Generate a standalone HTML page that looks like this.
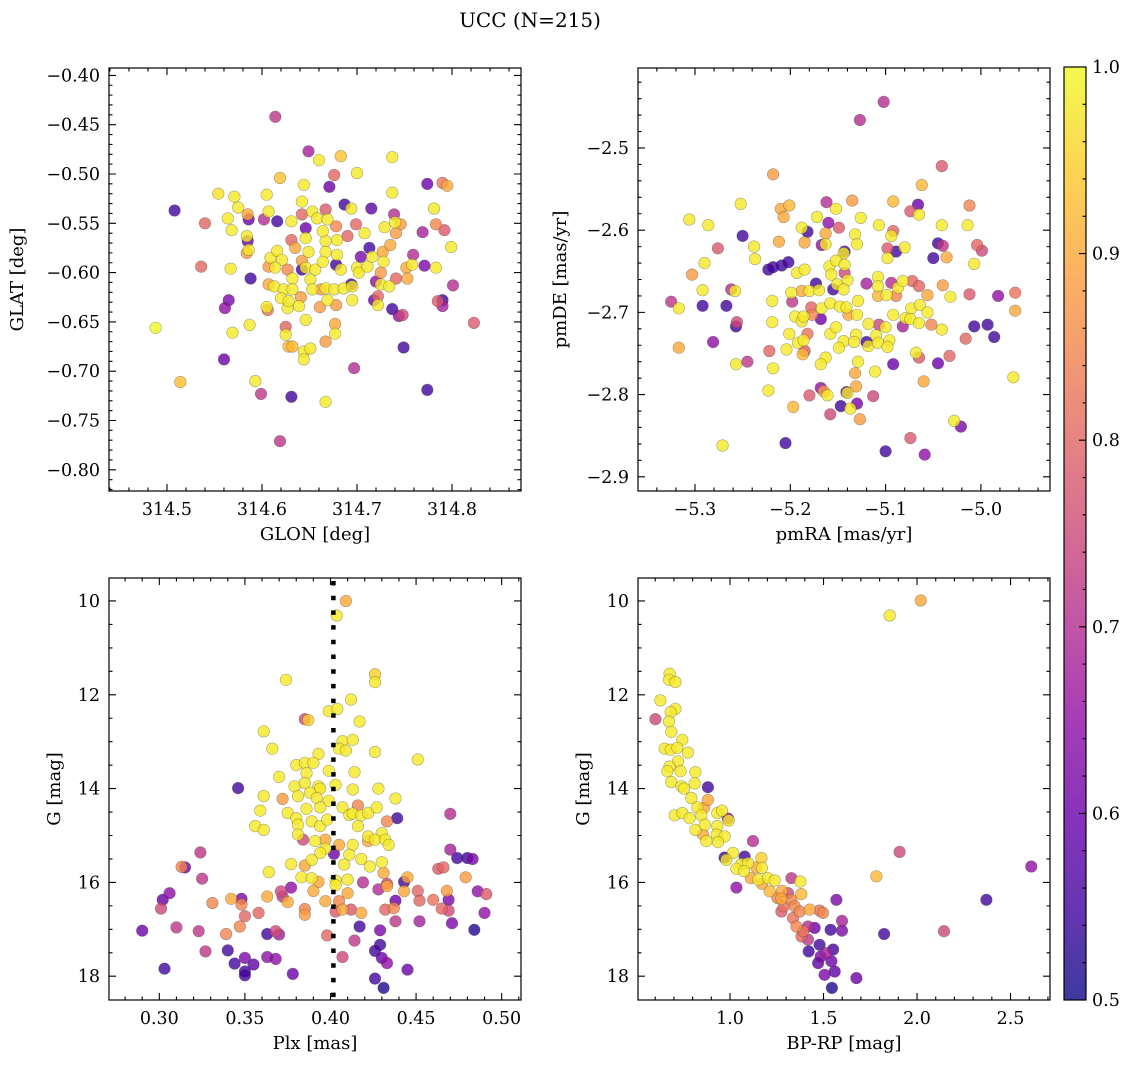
<!DOCTYPE html>
<html><head><meta charset="utf-8">
<style>
html,body{margin:0;padding:0;background:#fff;}
svg{display:block;font-family:"DejaVu Serif","Liberation Serif",serif;}
</style></head>
<body>
<svg id="fig" width="1136" height="1067" viewBox="0 0 1136 1067" xmlns="http://www.w3.org/2000/svg">
<defs>
<linearGradient id="cbgrad" x1="0" y1="1" x2="0" y2="0">
<stop offset="0" stop-color="#0d0887"/><stop offset="0.1" stop-color="#41049d"/><stop offset="0.2" stop-color="#6a00a8"/><stop offset="0.3" stop-color="#8f0da4"/><stop offset="0.4" stop-color="#b12a90"/><stop offset="0.5" stop-color="#cc4778"/><stop offset="0.6" stop-color="#e16462"/><stop offset="0.7" stop-color="#f2844b"/><stop offset="0.8" stop-color="#fca636"/><stop offset="0.9" stop-color="#fcce25"/><stop offset="1" stop-color="#f0f921"/>
</linearGradient>
</defs>
<text x="530" y="27" font-size="20" text-anchor="middle" fill="#000">UCC (N=215)</text>
<g id="layer"></g>
</svg>
<script>
// ---------- data: top-left (GLON / GLAT) ----------
const tlGlon=[314.488,314.514,314.508,314.540,314.536,314.614,314.619,314.631,314.599,314.593,314.667,314.749,314.774,314.823,314.774,314.790,314.795,314.737,314.683,314.649,314.660,314.700,314.676,314.671,314.619,314.644,314.554,314.571,314.605,314.737,314.575,314.564,314.585,314.586,314.602,314.616,314.607,314.631,314.642,314.687,314.694,314.715,314.781,314.568,314.584,314.585,314.584,314.586,314.567,314.588,314.699,314.708,314.729,314.739,314.740,314.746,314.741,314.769,314.783,314.792,314.799,314.759,314.771,314.783,314.752,314.753,314.741,314.801,314.785,314.790,314.790,314.737,314.748,314.744,314.697,314.565,314.561,314.606,314.605,314.569,314.587,314.560,314.625,314.625,314.628,314.632,314.646,314.644,314.644,314.651,314.667,314.677,314.677,314.609,314.616,314.621,314.614,314.607,314.632,314.627,314.642,314.642,314.646,314.656,314.649,314.646,314.646,314.642,314.653,314.658,314.667,314.669,314.667,314.679,314.664,314.678,314.690,314.667,314.679,314.678,314.683,314.631,314.635,314.664,314.607,314.613,314.623,314.632,314.641,314.620,314.627,314.639,314.628,314.651,314.653,314.662,314.667,314.676,314.686,314.695,314.695,314.669,314.678,314.694,314.661,314.713,314.716,314.727,314.735,314.728,314.700,314.702,314.711,314.704,314.725,314.720,314.725,314.734,314.722,314.718,314.722,314.758];
const tlGlat=[-0.656,-0.711,-0.537,-0.550,-0.594,-0.442,-0.771,-0.726,-0.723,-0.710,-0.731,-0.676,-0.719,-0.651,-0.510,-0.509,-0.512,-0.483,-0.482,-0.477,-0.486,-0.499,-0.501,-0.513,-0.504,-0.511,-0.520,-0.523,-0.521,-0.519,-0.534,-0.545,-0.541,-0.546,-0.546,-0.548,-0.538,-0.548,-0.528,-0.531,-0.535,-0.535,-0.535,-0.557,-0.563,-0.568,-0.580,-0.577,-0.596,-0.606,-0.551,-0.560,-0.554,-0.541,-0.549,-0.551,-0.560,-0.559,-0.551,-0.557,-0.574,-0.582,-0.593,-0.595,-0.595,-0.606,-0.606,-0.613,-0.629,-0.628,-0.634,-0.637,-0.643,-0.644,-0.697,-0.628,-0.636,-0.638,-0.635,-0.661,-0.653,-0.688,-0.655,-0.663,-0.675,-0.675,-0.648,-0.680,-0.688,-0.677,-0.670,-0.652,-0.662,-0.585,-0.578,-0.587,-0.595,-0.594,-0.606,-0.597,-0.588,-0.597,-0.595,-0.597,-0.579,-0.565,-0.555,-0.541,-0.538,-0.545,-0.536,-0.546,-0.568,-0.567,-0.558,-0.553,-0.563,-0.579,-0.582,-0.592,-0.597,-0.567,-0.575,-0.589,-0.612,-0.614,-0.617,-0.617,-0.625,-0.626,-0.636,-0.634,-0.629,-0.607,-0.617,-0.617,-0.616,-0.617,-0.616,-0.614,-0.628,-0.628,-0.633,-0.612,-0.635,-0.575,-0.584,-0.579,-0.572,-0.589,-0.595,-0.600,-0.594,-0.584,-0.600,-0.609,-0.612,-0.614,-0.624,-0.628,-0.633,-0.592];
const tlProb=[1.0,0.93,0.55,0.8,0.8,0.72,0.72,0.55,0.72,0.98,0.98,0.55,0.55,0.78,0.6,0.82,0.9,0.98,0.93,0.68,0.98,0.98,0.8,0.6,0.93,0.98,0.97,0.98,0.98,0.98,0.98,0.98,0.9,0.6,0.7,0.55,0.98,0.98,0.98,0.55,0.98,0.58,0.98,0.98,0.98,0.6,0.88,0.98,0.98,0.55,0.8,0.98,0.98,0.7,0.98,0.88,0.88,0.68,0.85,0.78,0.98,0.7,0.62,0.98,0.9,0.9,0.8,0.7,0.78,0.55,0.68,0.55,0.75,0.65,0.7,0.62,0.65,0.82,0.98,0.98,0.98,0.6,0.8,0.98,0.92,0.92,0.98,0.98,0.98,0.98,0.88,0.9,0.98,0.98,0.98,0.98,0.98,0.88,0.98,0.85,0.88,0.55,0.98,0.98,0.98,0.98,0.6,0.8,0.98,0.98,0.78,0.98,0.98,0.98,0.98,0.85,0.8,0.98,0.98,0.55,0.98,0.8,0.9,0.98,0.9,0.98,0.98,0.98,0.88,0.98,0.98,0.98,0.98,0.98,0.98,0.88,0.98,0.98,0.98,0.98,0.98,0.98,0.88,0.55,0.88,0.55,0.98,0.9,0.9,0.98,0.98,0.98,0.98,0.62,0.88,0.65,0.98,0.98,0.8,0.6,0.98,0.98];

// ---------- data: top-right (pmRA / pmDE) ----------
const trPmra=[-5.102,-5.127,-5.041,-5.218,-5.062,-5.252,-5.210,-5.201,-5.207,-5.162,-5.152,-5.135,-5.092,-5.066,-5.074,-5.065,-5.012,-5.306,-5.286,-5.172,-5.126,-5.188,-5.182,-5.160,-5.149,-5.163,-5.163,-5.167,-5.132,-5.130,-5.107,-5.092,-5.094,-5.041,-5.014,-5.250,-5.276,-5.238,-5.237,-5.212,-5.185,-5.143,-5.144,-5.098,-5.089,-5.098,-5.080,-5.045,-5.040,-5.050,-5.036,-5.004,-4.999,-5.007,-5.290,-5.303,-5.223,-5.218,-5.209,-5.202,-5.159,-5.152,-5.143,-5.157,-5.143,-5.140,-5.193,-5.185,-5.151,-5.144,-5.173,-5.155,-5.292,-5.262,-5.258,-5.325,-5.317,-5.292,-5.267,-5.219,-5.199,-5.188,-5.180,-5.170,-5.198,-5.120,-5.108,-5.094,-5.108,-5.108,-5.099,-5.089,-5.087,-5.082,-5.072,-5.065,-5.056,-5.040,-5.032,-5.012,-4.982,-4.964,-4.964,-5.178,-5.177,-5.168,-5.167,-5.158,-5.148,-5.141,-5.139,-5.130,-5.129,-5.195,-5.188,-5.186,-5.256,-5.257,-5.219,-5.118,-5.107,-5.100,-5.092,-5.082,-5.079,-5.073,-5.064,-5.074,-5.065,-5.056,-5.052,-5.041,-5.007,-4.993,-4.986,-5.016,-5.281,-5.317,-5.201,-5.182,-5.192,-5.186,-5.158,-5.152,-5.144,-5.131,-5.133,-5.120,-5.118,-5.110,-5.108,-5.096,-5.098,-5.222,-5.204,-5.187,-5.185,-5.163,-5.168,-5.149,-5.068,-5.065,-5.045,-5.033,-5.257,-5.245,-5.218,-5.129,-5.092,-5.111,-5.132,-5.060,-4.966,-5.223,-5.168,-5.165,-5.161,-5.180,-5.131,-5.140,-5.141,-5.113,-5.197,-5.158,-5.147,-5.137,-5.130,-5.127,-5.028,-5.021,-5.074,-5.271,-5.205,-5.100,-5.059];
const trPmde=[-2.444,-2.466,-2.522,-2.532,-2.545,-2.568,-2.574,-2.570,-2.584,-2.566,-2.574,-2.564,-2.565,-2.569,-2.577,-2.581,-2.570,-2.587,-2.594,-2.584,-2.585,-2.597,-2.602,-2.591,-2.597,-2.604,-2.617,-2.618,-2.605,-2.617,-2.594,-2.601,-2.607,-2.594,-2.594,-2.607,-2.622,-2.620,-2.635,-2.614,-2.615,-2.626,-2.628,-2.622,-2.626,-2.634,-2.621,-2.616,-2.619,-2.634,-2.633,-2.618,-2.625,-2.641,-2.640,-2.654,-2.648,-2.645,-2.643,-2.639,-2.644,-2.637,-2.642,-2.654,-2.652,-2.661,-2.652,-2.648,-2.666,-2.672,-2.665,-2.672,-2.673,-2.672,-2.674,-2.687,-2.695,-2.692,-2.692,-2.686,-2.676,-2.674,-2.674,-2.673,-2.687,-2.665,-2.657,-2.664,-2.668,-2.680,-2.679,-2.680,-2.670,-2.662,-2.662,-2.668,-2.679,-2.667,-2.681,-2.678,-2.680,-2.676,-2.698,-2.694,-2.703,-2.708,-2.695,-2.689,-2.693,-2.694,-2.703,-2.703,-2.686,-2.705,-2.711,-2.705,-2.712,-2.717,-2.712,-2.714,-2.715,-2.718,-2.703,-2.717,-2.707,-2.695,-2.691,-2.708,-2.713,-2.700,-2.715,-2.721,-2.717,-2.715,-2.730,-2.732,-2.736,-2.743,-2.726,-2.726,-2.737,-2.734,-2.726,-2.718,-2.735,-2.727,-2.736,-2.736,-2.741,-2.728,-2.737,-2.734,-2.742,-2.747,-2.745,-2.751,-2.747,-2.755,-2.763,-2.743,-2.749,-2.755,-2.762,-2.753,-2.763,-2.760,-2.768,-2.760,-2.763,-2.772,-2.774,-2.784,-2.779,-2.795,-2.792,-2.796,-2.801,-2.801,-2.790,-2.798,-2.797,-2.802,-2.815,-2.824,-2.814,-2.817,-2.811,-2.830,-2.832,-2.839,-2.853,-2.862,-2.859,-2.869,-2.873];
const trProb=[0.7,0.7,0.78,0.88,0.92,0.98,0.9,0.92,0.9,0.7,0.98,0.88,0.92,0.6,0.78,0.98,0.85,0.98,0.98,0.98,0.98,0.98,0.55,0.65,0.78,0.9,0.98,0.65,0.98,0.98,0.98,0.8,0.98,0.98,0.98,0.55,0.78,0.98,0.98,0.9,0.9,0.55,0.98,0.78,0.55,0.98,0.98,0.55,0.72,0.55,0.9,0.8,0.75,0.98,0.98,0.88,0.55,0.55,0.55,0.55,0.98,0.98,0.98,0.98,0.75,0.98,0.98,0.98,0.98,0.98,0.55,0.55,0.98,0.7,0.98,0.72,0.98,0.55,0.55,0.98,0.98,0.9,0.98,0.98,0.72,0.68,0.98,0.7,0.98,0.92,0.98,0.85,0.98,0.98,0.8,0.8,0.9,0.88,0.98,0.78,0.65,0.82,0.9,0.8,0.85,0.6,0.98,0.98,0.98,0.98,0.9,0.98,0.98,0.98,0.98,0.98,0.75,0.55,0.98,0.98,0.75,0.98,0.98,0.68,0.98,0.98,0.98,0.98,0.98,0.98,0.85,0.98,0.55,0.55,0.55,0.8,0.65,0.9,0.98,0.82,0.98,0.98,0.98,0.98,0.98,0.98,0.98,0.55,0.98,0.98,0.98,0.98,0.98,0.8,0.98,0.92,0.78,0.98,0.98,0.98,0.98,0.78,0.6,0.8,0.98,0.72,0.98,0.98,0.6,0.98,0.9,0.9,0.98,0.98,0.65,0.88,0.98,0.78,0.9,0.98,0.6,0.75,0.92,0.75,0.55,0.98,0.62,0.88,0.98,0.62,0.78,0.98,0.55,0.55,0.65,0.55];

// ---------- data: bottom-left (Plx / G) ----------
const blPlx=[0.409,0.4036,0.374,0.426,0.426,0.412,0.385,0.387,0.399,0.404,0.417,0.361,0.366,0.407,0.413,0.405,0.409,0.426,0.451,0.393,0.380,0.385,0.390,0.399,0.370,0.386,0.414,0.403,0.346,0.379,0.385,0.393,0.394,0.413,0.428,0.381,0.388,0.392,0.361,0.372,0.438,0.399,0.359,0.375,0.386,0.394,0.407,0.416,0.411,0.413,0.418,0.422,0.427,0.470,0.439,0.433,0.380,0.381,0.389,0.394,0.398,0.356,0.361,0.416,0.430,0.381,0.384,0.391,0.397,0.405,0.413,0.422,0.422,0.426,0.432,0.434,0.397,0.394,0.402,0.389,0.411,0.418,0.470,0.474,0.480,0.483,0.324,0.377,0.385,0.408,0.423,0.430,0.313,0.315,0.463,0.466,0.364,0.431,0.325,0.383,0.389,0.393,0.403,0.410,0.443,0.445,0.479,0.419,0.433,0.433,0.377,0.390,0.403,0.428,0.443,0.451,0.468,0.486,0.491,0.306,0.302,0.371,0.372,0.363,0.410,0.342,0.348,0.348,0.375,0.397,0.405,0.438,0.452,0.460,0.469,0.331,0.301,0.358,0.350,0.385,0.385,0.403,0.407,0.412,0.418,0.432,0.437,0.465,0.469,0.490,0.347,0.339,0.310,0.323,0.290,0.438,0.452,0.471,0.417,0.429,0.363,0.368,0.370,0.398,0.484,0.414,0.327,0.340,0.429,0.426,0.350,0.355,0.363,0.368,0.407,0.430,0.433,0.344,0.303,0.350,0.350,0.378,0.445,0.426,0.431];
const blG=[10.00,10.31,11.68,11.56,11.73,12.10,12.52,12.54,12.35,12.30,12.57,12.78,13.15,12.99,12.96,13.15,13.19,13.22,13.38,13.26,13.50,13.45,13.45,13.62,13.75,13.67,13.65,13.92,13.99,13.95,13.88,13.95,14.00,14.02,14.00,14.16,14.09,14.20,14.16,14.22,14.21,14.26,14.47,14.52,14.43,14.40,14.40,14.36,14.56,14.53,14.57,14.52,14.40,14.54,14.63,14.70,14.63,14.77,14.70,14.80,14.66,14.80,14.88,14.80,14.95,14.98,15.09,15.12,15.09,15.20,15.20,15.02,15.12,15.09,15.09,15.20,15.28,15.37,15.39,15.52,15.41,15.50,15.30,15.48,15.48,15.50,15.36,15.61,15.64,15.62,15.66,15.57,15.67,15.68,15.71,15.68,15.78,15.80,15.92,15.89,15.91,15.99,15.96,15.94,15.99,15.89,15.89,16.00,16.03,16.08,16.11,16.18,16.06,16.15,16.19,16.18,16.18,16.19,16.25,16.23,16.37,16.19,16.30,16.30,16.23,16.35,16.35,16.47,16.42,16.40,16.40,16.39,16.39,16.37,16.37,16.44,16.56,16.65,16.72,16.57,16.69,16.62,16.58,16.58,16.65,16.58,16.55,16.56,16.60,16.65,16.94,17.10,16.96,17.04,17.03,16.83,16.83,16.87,16.94,17.02,17.10,17.04,17.11,17.13,17.01,17.24,17.47,17.45,17.33,17.46,17.61,17.75,17.59,17.63,17.59,17.61,17.72,17.73,17.84,17.90,17.98,17.95,17.86,18.05,18.25];
const blProb=[0.9,0.98,0.98,0.95,0.98,0.98,0.75,0.95,0.98,0.98,0.98,0.98,0.98,0.98,0.98,0.98,0.98,0.98,0.98,0.98,0.98,0.98,0.98,0.98,0.98,0.98,0.98,0.98,0.55,0.98,0.98,0.98,0.98,0.98,0.98,0.98,0.98,0.98,0.98,0.88,0.98,0.98,0.98,0.98,0.98,0.98,0.98,0.85,0.98,0.98,0.98,0.98,0.98,0.7,0.55,0.85,0.98,0.98,0.98,0.98,0.98,0.98,0.98,0.98,0.98,0.98,0.75,0.98,0.9,0.9,0.98,0.98,0.9,0.98,0.98,0.98,0.98,0.98,0.6,0.98,0.98,0.98,0.68,0.55,0.55,0.62,0.72,0.98,0.9,0.98,0.98,0.98,0.85,0.6,0.78,0.8,0.98,0.9,0.72,0.98,0.98,0.9,0.98,0.98,0.55,0.9,0.88,0.7,0.75,0.9,0.65,0.9,0.98,0.7,0.9,0.8,0.88,0.65,0.78,0.65,0.6,0.75,0.72,0.9,0.9,0.9,0.62,0.85,0.9,0.9,0.85,0.6,0.8,0.82,0.62,0.85,0.75,0.8,0.8,0.85,0.88,0.78,0.9,0.78,0.9,0.8,0.85,0.8,0.75,0.65,0.85,0.85,0.72,0.72,0.6,0.72,0.68,0.62,0.55,0.62,0.55,0.75,0.68,0.8,0.52,0.72,0.72,0.55,0.55,0.55,0.62,0.58,0.65,0.65,0.75,0.6,0.65,0.55,0.55,0.55,0.55,0.6,0.6,0.55,0.52];

// ---------- data: bottom-right (BP-RP / G) ----------
const brColor=[2.020,1.854,0.677,0.674,0.708,0.627,0.601,0.708,0.683,0.674,0.686,0.745,0.651,0.683,0.718,0.775,0.722,0.677,0.665,0.736,0.815,0.686,0.740,0.754,0.811,0.882,0.793,0.825,0.861,0.882,0.704,0.745,0.784,0.815,0.847,0.865,0.932,0.957,0.989,0.993,0.932,0.856,0.873,0.929,0.971,0.936,1.123,0.971,1.016,0.980,1.078,1.061,1.096,1.168,1.034,1.075,1.141,1.171,1.111,1.150,1.203,1.239,1.034,1.328,1.376,1.171,1.212,1.253,1.278,1.310,1.275,1.328,1.287,1.346,1.381,1.569,1.426,1.479,1.497,1.275,1.337,1.373,1.599,1.355,1.391,1.417,1.453,1.382,1.417,1.538,1.599,1.479,1.421,1.551,1.485,1.515,1.471,1.542,1.506,1.560,1.545,1.676,1.783,1.907,2.611,2.371,2.144,1.824];
const brG=[9.99,10.31,11.55,11.68,11.73,12.12,12.52,12.30,12.37,12.57,12.79,12.96,13.15,13.17,13.13,13.23,13.42,13.53,13.63,13.63,13.65,13.86,13.95,14.00,13.89,13.97,14.20,14.40,14.41,14.24,14.57,14.52,14.63,14.88,14.57,14.77,14.52,14.47,14.64,14.68,14.80,14.98,15.12,14.98,15.02,15.14,15.12,15.47,15.37,15.52,15.45,15.61,15.59,15.48,15.71,15.76,15.68,15.69,15.91,15.94,15.91,15.96,16.11,15.91,15.98,16.03,16.19,16.33,16.18,16.23,16.35,16.37,16.51,16.51,16.25,16.37,16.58,16.60,16.65,16.62,16.76,16.62,16.82,16.94,17.04,16.94,16.97,17.15,17.22,17.01,17.03,17.33,17.47,17.43,17.58,17.51,17.72,17.68,17.97,17.90,18.25,18.04,15.87,15.35,15.66,16.37,17.04,17.10];
const brProb=[0.9,0.98,0.98,0.98,0.98,0.98,0.75,0.98,0.98,0.98,0.98,0.98,0.98,0.98,0.98,0.98,0.98,0.98,0.98,0.98,0.98,0.98,0.98,0.98,0.98,0.55,0.98,0.98,0.9,0.9,0.98,0.98,0.98,0.98,0.98,0.98,0.98,0.98,0.65,0.98,0.98,0.9,0.98,0.98,0.98,0.98,0.7,0.55,0.98,0.98,0.55,0.98,0.98,0.95,0.98,0.98,0.9,0.98,0.9,0.98,0.98,0.98,0.65,0.72,0.98,0.9,0.92,0.85,0.9,0.75,0.9,0.85,0.82,0.85,0.92,0.62,0.9,0.82,0.85,0.78,0.82,0.85,0.68,0.85,0.82,0.7,0.6,0.8,0.72,0.55,0.62,0.55,0.55,0.55,0.62,0.68,0.58,0.6,0.62,0.58,0.52,0.6,0.92,0.75,0.65,0.55,0.75,0.55];

// ---------- ticks ----------
const tlXTicks=[314.5,314.6,314.7,314.8];
const tlXLabels=["314.5","314.6","314.7","314.8"];
const tlYTicks=[-0.40,-0.45,-0.50,-0.55,-0.60,-0.65,-0.70,-0.75,-0.80];
const tlYLabels=["−0.40","−0.45","−0.50","−0.55","−0.60","−0.65","−0.70","−0.75","−0.80"];
const trXTicks=[-5.3,-5.2,-5.1,-5.0];
const trXLabels=["−5.3","−5.2","−5.1","−5.0"];
const trYTicks=[-2.5,-2.6,-2.7,-2.8,-2.9];
const trYLabels=["−2.5","−2.6","−2.7","−2.8","−2.9"];
const blXTicks=[0.30,0.35,0.40,0.45,0.50];
const blXLabels=["0.30","0.35","0.40","0.45","0.50"];
const gYTicks=[10,12,14,16,18];
const gYLabels=["10","12","14","16","18"];
const brXTicks=[1.0,1.5,2.0,2.5];
const brXLabels=["1.0","1.5","2.0","2.5"];
const cbTicks=[0.5,0.6,0.7,0.8,0.9,1.0];
const cbLabels=["0.5","0.6","0.7","0.8","0.9","1.0"];
const plxMedian=0.4017;

const NS='http://www.w3.org/2000/svg';
const layer=document.getElementById('layer');
function E(tag,parent){const e=document.createElementNS(NS,tag);(parent||layer).appendChild(e);return e;}

const plasma=[[13,8,135],[65,4,157],[106,0,168],[143,13,164],[177,42,144],[204,71,120],[225,100,98],[242,132,75],[252,166,54],[252,206,37],[240,249,33]];
function cmap(p){let t=(p-0.5)/0.5;t=Math.max(0,Math.min(1,t));const f=t*10;const i=Math.min(9,Math.floor(f));const r=f-i;const a=plasma[i],b=plasma[i+1];
return 'rgb('+Math.round(a[0]+(b[0]-a[0])*r)+','+Math.round(a[1]+(b[1]-a[1])*r)+','+Math.round(a[2]+(b[2]-a[2])*r)+')';}

function makeScale(d0,d1,p0,p1){return v=>p0+(v-d0)/(d1-d0)*(p1-p0);}

function drawPanel(cfg){
  const g=E('g');
  
  
  const sx=makeScale(cfg.xd[0],cfg.xd[1],cfg.x0,cfg.x0+cfg.w);
  const sy=cfg.inv?makeScale(cfg.yd[0],cfg.yd[1],cfg.y0,cfg.y0+cfg.h):makeScale(cfg.yd[0],cfg.yd[1],cfg.y0+cfg.h,cfg.y0);
  // points sorted by probability
  const idx=cfg.xs.map((_,i)=>i).sort((a,b)=>cfg.cs[a]-cfg.cs[b]);
  const pts=E('g',g);
  
  
  idx.forEach(i=>{
    const c=E('circle',pts);
    
    
    c.setAttribute('cx',sx(cfg.xs[i]).toFixed(1));
    c.setAttribute('cy',sy(cfg.ys[i]).toFixed(1));
    c.setAttribute('r','5.8');
    c.setAttribute('fill',cmap(cfg.cs[i]));
    c.setAttribute('fill-opacity','0.8');
    c.setAttribute('stroke','rgba(60,60,60,0.45)');
    c.setAttribute('stroke-width','0.6');
  });
  if(cfg.vline!==undefined){
    const l=E('line',g);
    
    
    const x=sx(cfg.vline);
    l.setAttribute('x1',x);l.setAttribute('x2',x);
    l.setAttribute('y1',cfg.y0);l.setAttribute('y2',cfg.y0+cfg.h);
    l.setAttribute('stroke','#000');l.setAttribute('stroke-width','4.5');
    l.setAttribute('stroke-dasharray','4.5 10.2');l.setAttribute('stroke-dashoffset','-3');
  }
  const fr=E('rect',g);
  
  
  fr.setAttribute('x',cfg.x0);fr.setAttribute('y',cfg.y0);fr.setAttribute('width',cfg.w);fr.setAttribute('height',cfg.h);
  fr.setAttribute('fill','none');fr.setAttribute('stroke','#000');fr.setAttribute('stroke-width','1.2');
  const tk=E('path',g);
  
  
  let d='';
  const yb=cfg.y0+cfg.h, xr=cfg.x0+cfg.w;
  function xt(v,L){const x=sx(v);if(x<cfg.x0+0.5||x>xr-0.5)return;d+='M'+x+' '+yb+'v'+(-L)+'M'+x+' '+cfg.y0+'v'+L;}
  function yt(v,L){const y=sy(v);if(y<cfg.y0+0.5||y>yb-0.5)return;d+='M'+cfg.x0+' '+y+'h'+L+'M'+xr+' '+y+'h'+(-L);}
  const xlo=Math.min(cfg.xd[0],cfg.xd[1]),xhi=Math.max(cfg.xd[0],cfg.xd[1]);
  for(let v=Math.ceil(xlo/cfg.xm)*cfg.xm;v<=xhi;v+=cfg.xm)xt(v,3.5);
  const ylo=Math.min(cfg.yd[0],cfg.yd[1]),yhi=Math.max(cfg.yd[0],cfg.yd[1]);
  for(let v=Math.ceil(ylo/cfg.ym)*cfg.ym;v<=yhi;v+=cfg.ym)yt(v,3.5);
  cfg.xt.forEach(v=>xt(v,7));
  cfg.yt.forEach(v=>yt(v,7));
  tk.setAttribute('d',d);tk.setAttribute('stroke','#000');tk.setAttribute('stroke-width','1.1');tk.setAttribute('fill','none');
  cfg.xt.forEach((v,i)=>{
    const t=E('text',g);
    
    
    t.setAttribute('x',sx(v));t.setAttribute('y',yb+24);t.setAttribute('font-size','17.5');t.setAttribute('text-anchor','middle');
    t.textContent=cfg.xl[i];
  });
  cfg.yt.forEach((v,i)=>{
    const t=E('text',g);
    
    
    t.setAttribute('x',cfg.x0-9);t.setAttribute('y',sy(v)+6);t.setAttribute('font-size','17.5');t.setAttribute('text-anchor','end');
    t.textContent=cfg.yl[i];
  });
  const xlab=E('text',g);
  
  
  xlab.setAttribute('x',cfg.x0+cfg.w/2);xlab.setAttribute('y',yb+49);xlab.setAttribute('font-size','18');xlab.setAttribute('text-anchor','middle');
  xlab.textContent=cfg.xlabel;
  const ylab=E('text',g);
  
  
  const cy=cfg.y0+cfg.h/2;
  ylab.setAttribute('transform','translate('+cfg.ylx+','+cy+') rotate(-90)');
  ylab.setAttribute('font-size','18');ylab.setAttribute('text-anchor','middle');
  ylab.textContent=cfg.ylabel;
}

drawPanel({name:'glon-glat-panel',x0:109,y0:68,w:412,h:423,xd:[314.439,314.8726],yd:[-0.8215,-0.3925],inv:false,
  xs:tlGlon,ys:tlGlat,cs:tlProb,xt:tlXTicks,xl:tlXLabels,yt:tlYTicks,yl:tlYLabels,xm:0.02,ym:0.01,xlabel:'GLON [deg]',ylabel:'GLAT [deg]',ylx:23});
drawPanel({name:'pm-panel',x0:638,y0:68,w:412,h:423,xd:[-5.3598,-4.9275],yd:[-2.9173,-2.4027],inv:false,
  xs:trPmra,ys:trPmde,cs:trProb,xt:trXTicks,xl:trXLabels,yt:trYTicks,yl:trYLabels,xm:0.02,ym:0.02,xlabel:'pmRA [mas/yr]',ylabel:'pmDE [mas/yr]',ylx:566});
drawPanel({name:'plx-g-panel',x0:109,y0:578,w:412,h:422,xd:[0.2706,0.5113],yd:[9.510,18.507],inv:true,
  xs:blPlx,ys:blG,cs:blProb,xt:blXTicks,xl:blXLabels,yt:gYTicks,yl:gYLabels,xm:0.01,ym:0.5,xlabel:'Plx [mas]',ylabel:'G [mag]',ylx:60,vline:plxMedian});
drawPanel({name:'cmd-panel',x0:638,y0:578,w:412,h:422,xd:[0.508,2.711],yd:[9.510,18.507],inv:true,
  xs:brColor,ys:brG,cs:brProb,xt:brXTicks,xl:brXLabels,yt:gYTicks,yl:gYLabels,xm:0.1,ym:0.5,xlabel:'BP-RP [mag]',ylabel:'G [mag]',ylx:589});

// colorbar
(function(){
  const g=E('g');
  
  
  const x0=1064,y0=67,w=22,h=933;
  const sc=makeScale(0.5,1.0,y0+h,y0);
  const r=E('rect',g);
  
  
  r.setAttribute('x',x0);r.setAttribute('y',y0);r.setAttribute('width',w);r.setAttribute('height',h);
  r.setAttribute('fill','url(#cbgrad)');r.setAttribute('fill-opacity','0.8');r.setAttribute('stroke','#000');r.setAttribute('stroke-width','1.2');
  let d='';
  for(let v=0.52;v<1.0;v+=0.02){d+='M'+(x0+w)+' '+sc(v)+'h-3.5';}
  cbTicks.forEach(v=>{d+='M'+(x0+w)+' '+sc(v)+'h-7';});
  const p=E('path',g);
  
  
  p.setAttribute('d',d);p.setAttribute('stroke','#000');p.setAttribute('stroke-width','1.1');
  cbTicks.forEach((v,i)=>{
    const t=E('text',g);
    
    
    t.setAttribute('x',x0+w+6);t.setAttribute('y',sc(v)+6);t.setAttribute('font-size','17.5');
    t.textContent=cbLabels[i];
  });
})();
</script>
</body></html>
